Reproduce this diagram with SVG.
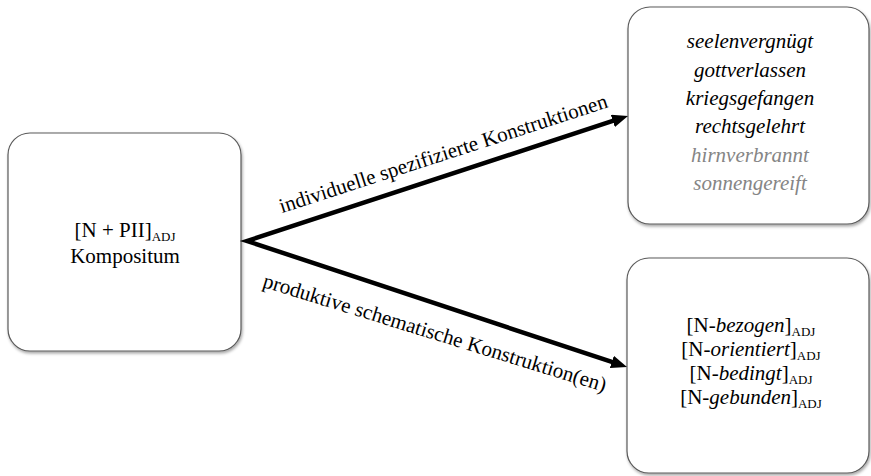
<svg xmlns="http://www.w3.org/2000/svg" width="871" height="476" viewBox="0 0 871 476" font-family="'Liberation Serif', 'Times New Roman', Tinos, 'DejaVu Serif', serif">
<style>
.box{fill:#fff;stroke:#5a5a5a;stroke-width:1.2;filter:url(#sh)}
text{font-family:'Liberation Serif','Times New Roman',Tinos,'DejaVu Serif',serif;font-size:21px;fill:#000;text-anchor:middle}
.it{font-style:italic}
.g{fill:#858585}
.sub{font-size:13px}
.conn{fill:none;stroke:#000;stroke-width:4.5;stroke-linejoin:miter}
</style>
<defs>
<filter id="sh" x="-10%" y="-10%" width="120%" height="120%">
<feDropShadow dx="1" dy="2" stdDeviation="1.5" flood-color="#000" flood-opacity="0.35"/>
</filter>
<marker id="ah" markerUnits="userSpaceOnUse" markerWidth="17" markerHeight="13" refX="4" refY="6.5" orient="auto-start-reverse">
<path d="M0,0 L16,6.5 L0,13 Z" fill="#000"/>
</marker>
</defs>
<rect width="871" height="476" fill="#fff"/>
<g id="kompositum">
<rect class="box" x="8" y="133" width="233" height="218" rx="22"/>
<text x="125" y="237">[N + PII]<tspan class="sub" dy="4">ADJ</tspan></text>
<text x="125" y="263">Kompositum</text>
</g>
<g id="individuell">
<rect class="box" x="628" y="7" width="241" height="217" rx="22"/>
<text class="it" x="750" y="48">seelenvergnügt</text>
<text class="it" x="750" y="76.5">gottverlassen</text>
<text class="it" x="750" y="105">kriegsgefangen</text>
<text class="it" x="750" y="133">rechtsgelehrt</text>
<text class="it g" x="750" y="161.5">hirnverbrannt</text>
<text class="it g" x="750" y="190">sonnengereift</text>
</g>
<g id="schematisch">
<rect class="box" x="627" y="258" width="242" height="215" rx="22"/>
<text x="751" y="332">[N-<tspan class="it">bezogen</tspan>]<tspan class="sub" dy="4">ADJ</tspan></text>
<text x="751" y="356">[N-<tspan class="it">orientiert</tspan>]<tspan class="sub" dy="4">ADJ</tspan></text>
<text x="751" y="380">[N-<tspan class="it">bedingt</tspan>]<tspan class="sub" dy="4">ADJ</tspan></text>
<text x="751" y="404">[N-<tspan class="it">gebunden</tspan>]<tspan class="sub" dy="4">ADJ</tspan></text>
</g>
<g id="connectors">
<polyline class="conn" points="616.6,119.7 247,241 615.6,363.2" marker-start="url(#ah)" marker-end="url(#ah)"/>
<text transform="translate(445.3,160.2) rotate(-18)">individuelle spezifizierte Konstruktionen</text>
<text transform="translate(432.8,339.3) rotate(17.1)">produktive schematische Konstruktion(en)</text>
</g>
</svg>
